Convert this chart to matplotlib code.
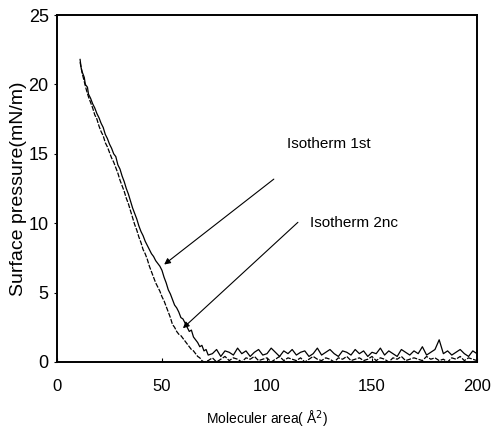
import numpy as np
import matplotlib
matplotlib.use("Agg")
import matplotlib.pyplot as plt

# Isotherm 1st (outer curve), steep part
x1 = [11, 11.5, 12, 13, 13.5, 14.5, 15, 16, 17, 18, 19, 20, 21, 22, 23, 24, 25, 26, 27, 28,
      29, 30, 31, 32, 33, 34, 35, 36, 37, 38, 39, 40, 41, 42, 43, 44, 45, 46, 47, 48,
      49, 50, 51, 52, 53, 54, 55, 56, 57, 58, 59, 60, 61, 62, 63, 64, 65, 66, 67, 68,
      69, 70, 71, 72]
y1 = [21.8, 21.2, 20.9, 20.5, 20.0, 19.8, 19.3, 19.0, 18.6, 18.3, 17.9, 17.6, 17.2, 16.9, 16.4,
      16.1, 15.7, 15.4, 15.0, 14.8, 14.2, 13.9, 13.4, 13.0, 12.5, 12.1, 11.6, 11.1, 10.7, 10.3,
      9.8, 9.4, 9.1, 8.7, 8.4, 8.1, 7.8, 7.6, 7.3, 7.1, 6.9, 6.6, 6.1, 5.7, 5.2, 4.9, 4.5, 4.1,
      3.9, 3.6, 3.2, 3.1, 2.8, 2.5, 2.2, 2.3, 1.8, 1.6, 1.4, 1.1, 1.2, 0.8, 0.9, 0.5]
# baseline noise of the 1st isotherm, x = 74..200 step 2
tail1 = [0.6, 0.9, 0.4, 0.8, 0.7, 0.5, 1.0, 0.6, 0.8, 0.4,
         0.7, 0.9, 0.5, 0.6, 1.0, 0.7, 0.4, 0.8, 0.6, 0.9,
         0.5, 0.7, 0.8, 0.4, 0.6, 1.0, 0.5, 0.7, 0.9, 0.6,
         0.4, 0.8, 0.7, 0.5, 0.9, 0.6, 0.8, 0.4, 0.7, 0.6,
         1.0, 0.5, 0.8, 0.6, 0.4, 0.9, 0.7, 0.5, 0.8, 0.6,
         1.1, 0.5, 0.7, 0.9, 1.6, 0.6, 0.8, 0.5, 0.7, 0.9,
         0.6, 0.4, 0.8, 0.6]

# Isotherm 2nc (inner curve)
x2 = [11, 12, 13, 14, 15, 16, 17, 18, 19, 20, 21, 22, 23, 24, 25, 26, 27, 28, 29, 30,
      31, 32, 33, 34, 35, 36, 37, 38, 39, 40, 41, 42, 43, 44, 45, 46, 47, 48, 49, 50,
      51, 52, 53, 54, 55, 56, 57, 58, 59, 60, 61, 62, 63, 64, 65, 66, 67, 68, 69, 70]
y2 = [21.6, 20.8, 20.2, 19.6, 19.1, 18.7, 18.3, 17.8, 17.5, 17.0, 16.6, 16.3, 15.8, 15.5, 15.1,
      14.7, 14.4, 14.0, 13.6, 13.1, 12.7, 12.3, 11.8, 11.4, 10.9, 10.4, 9.9, 9.5, 9.0, 8.6,
      8.1, 7.8, 7.4, 6.9, 6.5, 6.1, 5.7, 5.4, 5.1, 4.7, 4.4, 4.0, 3.6, 3.2, 2.7, 2.5, 2.2,
      2.0, 1.9, 1.7, 1.5, 1.3, 1.1, 0.9, 0.8, 0.6, 0.4, 0.3, 0.1, 0.0]
# baseline noise of the 2nd isotherm, x = 72..200 step 2
tail2 = [0.1, 0.3, 0.0, 0.2, 0.4, 0.1, 0.3, 0.2, 0.0, 0.3,
         0.2, 0.4, 0.1, 0.2, 0.3, 0.0, 0.2, 0.4, 0.1, 0.3,
         0.2, 0.1, 0.3, 0.0, 0.2, 0.4, 0.2, 0.1, 0.3, 0.2,
         0.0, 0.3, 0.2, 0.4, 0.1, 0.2, 0.3, 0.1, 0.2, 0.4,
         0.1, 0.3, 0.2, 0.0, 0.3, 0.2, 0.4, 0.1, 0.2, 0.3,
         0.2, 0.1, 0.4, 0.2, 0.3, 0.1, 0.2, 0.0, 0.3, 0.2,
         0.4, 0.1, 0.3, 0.2, 0.1]

xticks = [0, 50, 100, 150, 200]
yticks = [0, 5, 10, 15, 20, 25]

xa = np.concatenate([x1, np.arange(74, 201, 2)])
ya = np.concatenate([y1, tail1])
xb = np.concatenate([x2, np.arange(72, 201, 2)])
yb = np.concatenate([y2, tail2])

fnt = ["Liberation Sans", "DejaVu Sans"]

fig = plt.figure(figsize=(4.93, 4.34), dpi=100)
ax = fig.add_axes([0.1156, 0.1659, 0.8519, 0.7995])

ax.plot(xb, yb, color="black", lw=0.9, dashes=(4, 1.2))
ax.plot(xa, ya, color="black", lw=0.9)

ax.set_xlim(0, 200)
ax.set_ylim(0, 25)
ax.set_xticks(xticks)
ax.set_yticks(yticks)
ax.set_xticklabels([str(t) for t in xticks], family=fnt, fontsize=12)
ax.set_yticklabels([str(t) for t in yticks], family=fnt, fontsize=13)
ax.tick_params(axis="x", direction="in", length=3, width=0.8, pad=12)
ax.tick_params(axis="y", direction="out", length=2, width=0.8, pad=4)
for s in ax.spines.values():
    s.set_linewidth(1.4)

ax.set_ylabel("Surface pressure(mN/m)", family=fnt, fontsize=14, labelpad=1)
ax.set_xlabel("Moleculer area( Å$^2$)", family=fnt, fontsize=10, labelpad=11)

ax.annotate("", xy=(50, 6.9), xytext=(104.3, 13.3),
            arrowprops=dict(arrowstyle="-|>", color="black", lw=0.8, mutation_scale=9))
ax.annotate("", xy=(59, 2.3), xytext=(115.7, 10.2),
            arrowprops=dict(arrowstyle="-|>", color="black", lw=0.8, mutation_scale=9))
ax.text(109.5, 15.7, "Isotherm 1st", family=fnt, fontsize=11, va="center", ha="left")
ax.text(120.5, 10.0, "Isotherm 2nc", family=fnt, fontsize=11, va="center", ha="left")

fig.savefig("out.png", dpi=100)
